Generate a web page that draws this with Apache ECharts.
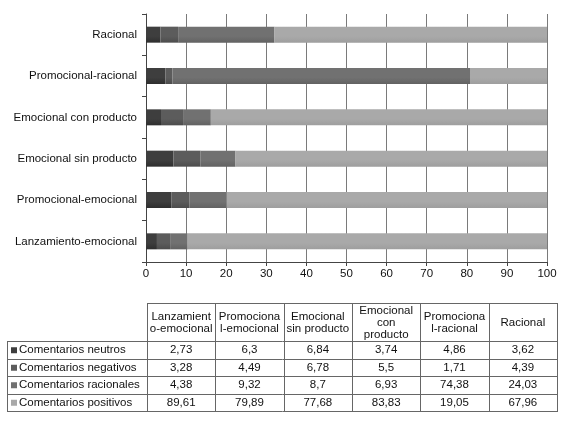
<!DOCTYPE html>
<html>
<head>
<meta charset="utf-8">
<script src="https://cdn.jsdelivr.net/npm/echarts@6/dist/echarts.min.js"></script>
<style>
  html, body { margin: 0; padding: 0; background: #fff; }
  #main { width: 565px; height: 435px; }
</style>
</head>
<body>
<div id="main"></div>
<script>
// categories, bottom to top on the chart, left to right in the table
var categories = ['Lanzamiento-emocional', 'Promocional-emocional', 'Emocional sin producto',
  'Emocional con producto', 'Promocional-racional', 'Racional'];
var tableHeaders = ['Lanzamient\no-emocional', 'Promociona\nl-emocional', 'Emocional\nsin producto',
  'Emocional\ncon\nproducto', 'Promociona\nl-racional', 'Racional'];
var seriesNames = ['Comentarios neutros', 'Comentarios negativos', 'Comentarios racionales', 'Comentarios positivos'];

var neutros = [2.73, 6.3, 6.84, 3.74, 4.86, 3.62];
var negativos = [3.28, 4.49, 6.78, 5.5, 1.71, 4.39];
var racionales = [4.38, 9.32, 8.7, 6.93, 74.38, 24.03];
var positivos = [89.61, 79.89, 77.68, 83.83, 19.05, 67.96];

var xTicks = [0, 10, 20, 30, 40, 50, 60, 70, 80, 90, 100];

var seriesData = [neutros, negativos, racionales, positivos];
var colors = ['#3e3e3e', '#5c5c5c', '#717171', '#a9a9a9'];
var colorsDark = ['#2e2e2e', '#4c4c4c', '#626262', '#9e9e9e'];

var FONT = '"Liberation Sans", Arial, sans-serif';
var FS = 11.5;

var chartDom = document.getElementById('main');
var myChart = echarts.init(chartDom);

function fmt(v) {
  return String(v).replace('.', ',');
}

// data table below the chart
var tblLeft = 7, colLeft = 147, tblRight = 557;
var tblTop = 303, headBottom = 341, rowH = 17.5;
var colW = (tblRight - colLeft) / categories.length;
var tblBottom = headBottom + rowH * seriesNames.length;
var lineStyle = { stroke: '#666', lineWidth: 1 };
var gfx = [];

function hline(y, x1, x2) {
  y = Math.round(y) + 0.5;
  gfx.push({ type: 'line', shape: { x1: x1, y1: y, x2: x2, y2: y }, style: lineStyle, silent: true });
}
function vline(x, y1, y2) {
  x = Math.round(x) + 0.5;
  gfx.push({ type: 'line', shape: { x1: x, y1: y1, x2: x, y2: y2 }, style: lineStyle, silent: true });
}

hline(tblTop, colLeft, tblRight);
for (var r = 0; r <= seriesNames.length; r++) {
  hline(headBottom + r * rowH, tblLeft, tblRight + 1);
}
vline(tblLeft, headBottom, tblBottom + 1);
for (var c = 0; c <= categories.length; c++) {
  vline(colLeft + c * colW, tblTop, tblBottom + 1);
}

tableHeaders.forEach(function (h, i) {
  gfx.push({
    type: 'text',
    x: colLeft + (i + 0.5) * colW,
    y: (tblTop + headBottom) / 2 + 1,
    style: { text: h, font: FS + 'px ' + FONT, fill: '#111', align: 'center', verticalAlign: 'middle', lineHeight: 12 },
    silent: true
  });
});

seriesNames.forEach(function (name, r) {
  var cy = headBottom + (r + 0.5) * rowH + 0.5;
  gfx.push({
    type: 'rect',
    shape: { x: 11, y: cy - 3, width: 6, height: 6 },
    style: { fill: colors[r] },
    silent: true
  });
  gfx.push({
    type: 'text', x: 19, y: cy,
    style: { text: name, font: FS + 'px ' + FONT, fill: '#111', align: 'left', verticalAlign: 'middle' },
    silent: true
  });
  seriesData[r].forEach(function (v, i) {
    gfx.push({
      type: 'text', x: colLeft + (i + 0.5) * colW, y: cy,
      style: { text: fmt(v), font: FS + 'px ' + FONT, fill: '#111', align: 'center', verticalAlign: 'middle' },
      silent: true
    });
  });
});

var option = {
  animation: false,
  backgroundColor: '#fff',
  textStyle: { fontFamily: FONT },
  grid: { left: 146, top: 14, right: 18, bottom: 173, containLabel: false },
  xAxis: {
    type: 'value',
    min: xTicks[0],
    max: xTicks[xTicks.length - 1],
    interval: xTicks[1] - xTicks[0],
    axisLine: { show: true, lineStyle: { color: '#444', width: 1 } },
    axisTick: { show: true, length: 4, lineStyle: { color: '#444' } },
    axisLabel: { color: '#111', fontSize: FS, margin: 6, fontFamily: FONT },
    splitLine: { show: true, lineStyle: { color: '#7a7a7a', width: 1 } }
  },
  yAxis: {
    type: 'category',
    data: categories,
    axisLine: { show: true, lineStyle: { color: '#444', width: 1 } },
    axisTick: { show: true, length: 4, lineStyle: { color: '#444' } },
    axisLabel: { color: '#111', fontSize: FS, margin: 9, fontFamily: FONT }
  },
  series: seriesNames.map(function (name, i) {
    return {
      name: name,
      type: 'bar',
      stack: 'total',
      barWidth: 16,
      data: seriesData[i],
      itemStyle: {
        color: new echarts.graphic.LinearGradient(0, 0, 0, 1, [
          { offset: 0, color: colors[i] },
          { offset: 0.6, color: colors[i] },
          { offset: 1, color: colorsDark[i] }
        ])
      }
    };
  }),
  graphic: gfx
};

option && myChart.setOption(option);
</script>
</body>
</html>
